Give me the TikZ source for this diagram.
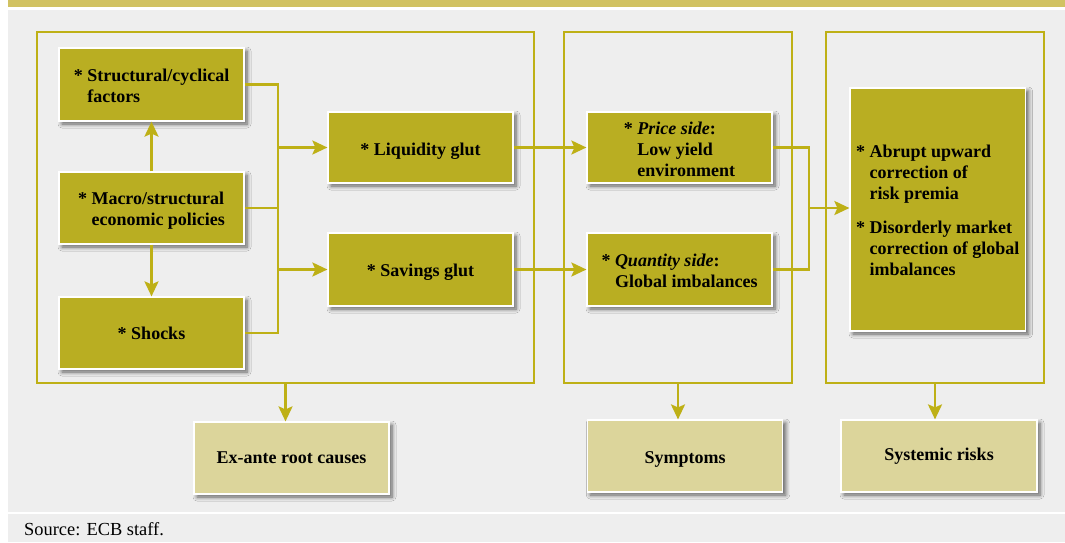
\documentclass[tikz,border=0pt]{standalone}
\usepackage{fontspec}
\setmainfont{Liberation Serif}
\usetikzlibrary{arrows.meta,shadows,shadows.blur,calc}
\definecolor{gold}{RGB}{185,174,34}
\definecolor{goldline}{RGB}{190,176,22}
\definecolor{lightgold}{RGB}{220,213,155}
\definecolor{bg}{RGB}{238,238,238}
\definecolor{band}{RGB}{209,194,98}
\newcommand{\hg}{\hphantom{*\ }}
\begin{document}
\begin{tikzpicture}[x=1pt,y=-1pt,
  box/.style={draw=white, line width=1.2pt, fill=gold, inner sep=0pt,
    blur shadow={shadow xshift=3pt, shadow yshift=-3pt, shadow blur steps=6, shadow blur radius=4pt, shadow opacity=60}},
  lbox/.style={box, fill=lightgold},
  btext/.style={inner sep=0pt, align=left, font=\fontsize{18}{21}\selectfont\bfseries},
  frame/.style={draw=goldline, line width=2.3pt, inner sep=0pt},
  conn/.style={draw=goldline, line width=2.5pt},
  arr/.style={conn, -{Stealth[length=15pt,width=14pt,inset=3pt]}}
]
\useasboundingbox (0,0) rectangle (1065,542);
\fill[white] (0,0) rectangle (1065,542);
\fill[band] (8,0) rectangle (1065,7);
\fill[bg] (8,10) rectangle (1065,512);
\fill[bg] (8,514) rectangle (1065,542);

% frames
\node[frame, minimum width=497pt, minimum height=351pt] (f1) at (285.5,207.5) {};
\node[frame, minimum width=228pt, minimum height=351pt] (f2) at (678,207.5) {};
\node[frame, minimum width=218pt, minimum height=351pt] (f3) at (935,207.5) {};

% boxes
\node[box, minimum width=185pt, minimum height=73pt] (sc) at (151.5,84.5) {};
\node[box, minimum width=185pt, minimum height=72pt] (mp) at (151.5,208) {};
\node[box, minimum width=185pt, minimum height=72pt] (sh) at (151.5,333) {};
\node[box, minimum width=185pt, minimum height=71pt] (lg) at (420.5,147.5) {};
\node[box, minimum width=185pt, minimum height=73pt] (sg) at (420.5,269.5) {};
\node[box, minimum width=185pt, minimum height=71pt] (ps) at (679.5,147.5) {};
\node[box, minimum width=185pt, minimum height=73pt] (qs) at (679.5,269.5) {};
\node[box, minimum width=175.5pt, minimum height=243pt] (rk) at (937.75,209.5) {};
\node[lbox, minimum width=195pt, minimum height=72pt] (ex) at (291.5,458) {};
\node[lbox, minimum width=195.5pt, minimum height=72pt] (sy) at (685,456) {};
\node[lbox, minimum width=196pt, minimum height=72pt] (sr) at (939,456) {};

% box texts
\node[btext] (sc-t) at ([yshift=-1pt]sc.center) {* Structural/cyclical\\\hg factors};
\node[btext] (mp-t) at ([yshift=-3pt]mp.center) {* Macro/structural\\\hg economic policies};
\node[btext] (sh-t) at ([yshift=0pt]sh.center) {* Shocks};
\node[btext] (lg-t) at ([yshift=-4pt]lg.center) {* Liquidity glut};
\node[btext] (sg-t) at ([yshift=-3pt]sg.center) {* Savings glut};
\node[btext] (ps-t) at ([yshift=-2pt]ps.center) {* \textit{Price side}:\\\hg Low yield\\\hg environment};
\node[btext] (qs-t) at ([yshift=-1.5pt]qs.center) {* \textit{Quantity side}:\\\hg Global imbalances};
\node[btext] (rk-t) at ([yshift=-1pt]rk.center) {* Abrupt upward\\\hg correction of\\\hg risk premia\\[13pt]* Disorderly market\\\hg correction of global\\\hg imbalances};
\node[btext] (ex-t) at (ex.center) {Ex-ante root causes};
\node[btext] (sy-t) at ([yshift=-3pt]sy.center) {Symptoms};
\node[btext] (sr-t) at (sr.center) {Systemic risks};

% connectors
\draw[arr] (mp.north) -- (sc.south);
\draw[arr] (mp.south) -- (sh.north);
\coordinate (bx) at (278,333);
\draw[conn] (sc.east) -| (bx) -- (sh.east);
\draw[conn] (mp.east) -- (mp.east -| bx);
\draw[arr] (bx |- lg.west) -- (lg.west);
\draw[arr] (bx |- sg.west) -- (sg.west);
\draw[arr] (lg.east) -- (ps.west);
\draw[arr] (sg.east) -- (qs.west);
\coordinate (cx) at (809,208);
\draw[conn] (ps.east) -| (cx |- qs.east) -- (qs.east);
\draw[arr] (cx) -- (cx -| rk.west);
\draw[arr] (f1.south) -- (f1.south |- ex.north);
\draw[arr] (f2.south) -- (f2.south |- sy.north);
\draw[arr] (f3.south) -- (f3.south |- sr.north);

\node[anchor=base west, font=\fontsize{18.4}{21}\selectfont, inner sep=0pt] (src) at (24,535) {Source: ECB staff.};
\end{tikzpicture}
\end{document}
